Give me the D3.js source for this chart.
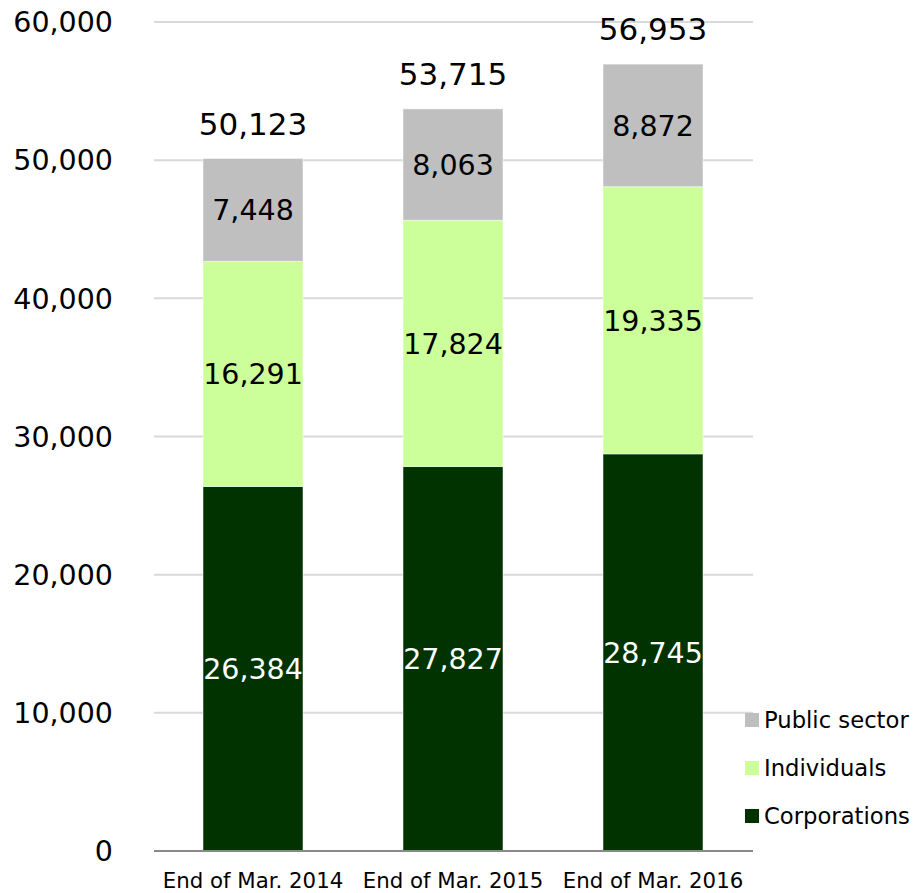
<!DOCTYPE html>
<html>
<head>
<meta charset="utf-8">
<script src="https://cdn.jsdelivr.net/npm/d3@7"></script>
<style>
  html, body { margin: 0; padding: 0; background: #fff; }
  svg { display: block; font-family: "DejaVu Sans", Verdana, sans-serif; }
</style>
</head>
<body>
<div id="app"></div>
<script>
// chart values
const categories = ["End of Mar. 2014", "End of Mar. 2015", "End of Mar. 2016"];
const corporations = [26384, 27827, 28745];
const individuals = [16291, 17824, 19335];
const publicSector = [7448, 8063, 8872];
const totals = [50123, 53715, 56953];
const yTicks = [0, 10000, 20000, 30000, 40000, 50000, 60000];

const seriesNames = ["Corporations", "Individuals", "Public sector"];
const seriesColors = ["#003300", "#CCFF99", "#BFBFBF"];
const labelColors = ["#ffffff", "#000000", "#000000"];

const width = 913, height = 893;
const svg = d3.select("#app").append("svg")
  .attr("width", width)
  .attr("height", height);

const x = d3.scaleBand().domain(categories).range([153, 753])
  .paddingInner(0.5).paddingOuter(0.25);
const y = d3.scaleLinear().domain([0, 60000]).range([851, 22]);
const fmt = d3.format(",");

// gridlines
svg.append("g")
  .selectAll("line")
  .data(yTicks.filter(d => d > 0))
  .join("line")
    .attr("x1", 154).attr("x2", 753)
    .attr("y1", d => y(d)).attr("y2", d => y(d))
    .attr("stroke", "#D9D9D9").attr("stroke-width", 2);

// y tick labels
svg.append("g")
  .selectAll("text")
  .data(yTicks)
  .join("text")
    .attr("x", 113)
    .attr("y", d => y(d))
    .attr("dy", "0.36em")
    .attr("text-anchor", "end")
    .attr("font-size", 28.5)
    .attr("fill", "#000")
    .text(d => fmt(d));

// stacked data
const rows = categories.map((c, i) => ({
  cat: c,
  "Corporations": corporations[i],
  "Individuals": individuals[i],
  "Public sector": publicSector[i]
}));
const stack = d3.stack().keys(seriesNames)(rows);

const layers = svg.append("g")
  .selectAll("g")
  .data(stack)
  .join("g")
    .attr("fill", (d, i) => seriesColors[i]);

layers.selectAll("rect")
  .data(d => d)
  .join("rect")
    .attr("x", d => x(d.data.cat))
    .attr("width", x.bandwidth())
    .attr("y", d => y(d[1]))
    .attr("height", d => y(d[0]) - y(d[1]))
    .attr("stroke", "#ffffff")
    .attr("stroke-opacity", 0.5)
    .attr("stroke-width", 1);

// segment labels
stack.forEach((layer, i) => {
  svg.append("g")
    .selectAll("text")
    .data(layer)
    .join("text")
      .attr("x", d => x(d.data.cat) + x.bandwidth() / 2)
      .attr("y", d => y((d[0] + d[1]) / 2))
      .attr("dy", "0.36em")
      .attr("text-anchor", "middle")
      .attr("font-size", 28.5)
      .attr("fill", labelColors[i])
      .text(d => fmt(d[1] - d[0]));
});

// totals
svg.append("g")
  .selectAll("text")
  .data(totals)
  .join("text")
    .attr("x", (d, i) => x(categories[i]) + x.bandwidth() / 2)
    .attr("y", d => y(d) - 35)
    .attr("dy", "0.36em")
    .attr("text-anchor", "middle")
    .attr("font-size", 31)
    .attr("fill", "#000")
    .text(d => fmt(d));

// baseline
svg.append("line")
  .attr("x1", 154).attr("x2", 753)
  .attr("y1", y(0)).attr("y2", y(0))
  .attr("stroke", "#898989").attr("stroke-width", 2);

// x labels
svg.append("g")
  .selectAll("text")
  .data(categories)
  .join("text")
    .attr("x", d => x(d) + x.bandwidth() / 2)
    .attr("y", 880)
    .attr("dy", "0.36em")
    .attr("text-anchor", "middle")
    .attr("font-size", 21.3)
    .attr("fill", "#000")
    .text(d => d);

// legend (top to bottom: public sector, individuals, corporations)
const legendOrder = [2, 1, 0];
const legend = svg.append("g")
  .selectAll("g")
  .data(legendOrder)
  .join("g")
    .attr("transform", (d, i) => `translate(745, ${720 + i * 48})`);
legend.append("rect")
  .attr("x", 0).attr("y", -7)
  .attr("width", 14).attr("height", 14)
  .attr("fill", d => seriesColors[d]);
legend.append("text")
  .attr("x", 19)
  .attr("dy", "0.36em")
  .attr("font-size", 22.7)
  .attr("fill", "#000")
  .text(d => seriesNames[d]);
</script>
</body>
</html>
